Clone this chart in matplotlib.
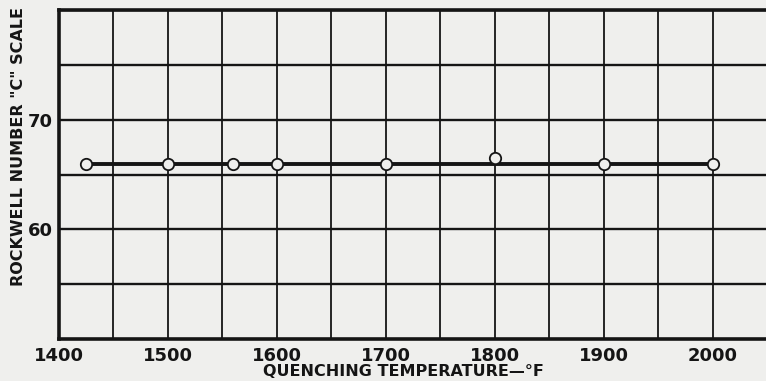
import matplotlib
matplotlib.use("Agg")
import matplotlib.pyplot as plt
from matplotlib.ticker import FixedLocator, FixedFormatter

# Data
temps = [1425, 1500, 1560, 1600, 1700, 1800, 1900, 2000]
hardness = [66.0, 66.0, 66.0, 66.0, 66.0, 66.5, 66.0, 66.0]
trend_value = 66.0

x_tick_values = [1400, 1500, 1600, 1700, 1800, 1900, 2000]
x_tick_labels = ["1400", "1500", "1600", "1700", "1800", "1900", "2000"]
x_grid_values = [1450, 1500, 1550, 1600, 1650, 1700, 1750, 1800, 1850, 1900, 1950, 2000, 2050]
y_grid_values = [55, 60, 65, 70, 75, 80]
y_tick_values = [60, 70]
y_tick_labels = ["60", "70"]

bg = "#efefed"
ink = "#151515"

fig = plt.figure(figsize=(7.66, 3.81), dpi=100, facecolor=bg)
ax = fig.add_axes([58.7 / 766, 42 / 381, 1 - 58.7 / 766, 329 / 381])
ax.set_facecolor(bg)
ax.set_xlim(1400, 2049)
ax.set_ylim(50, 80)

# grid
for gx in x_grid_values:
    ax.axvline(gx, color=ink, lw=1.3, zorder=1)
for gy in y_grid_values:
    ax.axhline(gy, color=ink, lw=1.7, zorder=1)

# spines
for side in ["left", "bottom", "top"]:
    ax.spines[side].set_linewidth(2.6)
    ax.spines[side].set_color(ink)
ax.spines["right"].set_visible(False)

# trend line and points
ax.plot([temps[0], temps[-1]], [trend_value, trend_value], color=ink, lw=2.8, zorder=3,
        solid_capstyle="butt")
ax.plot(temps, hardness, linestyle="none", marker="o", markersize=8.2,
        markerfacecolor=bg, markeredgecolor=ink, markeredgewidth=1.3, zorder=4)

ax.xaxis.set_major_locator(FixedLocator(x_tick_values))
ax.xaxis.set_major_formatter(FixedFormatter(x_tick_labels))
ax.yaxis.set_major_locator(FixedLocator(y_tick_values))
ax.yaxis.set_major_formatter(FixedFormatter(y_tick_labels))
ax.tick_params(axis="both", length=0, labelsize=13, colors=ink)
ax.tick_params(axis="x", pad=6)
ax.tick_params(axis="y", pad=4)
for lbl in ax.get_xticklabels() + ax.get_yticklabels():
    lbl.set_fontweight("bold")
    lbl.set_family("DejaVu Sans")

ax.set_xlabel("QUENCHING TEMPERATURE—°F", fontsize=11.5, fontweight="bold",
              color=ink, labelpad=1)
ax.xaxis.set_label_coords((403 - 58.7) / (766 - 58.7), -0.075)
ax.set_ylabel('ROCKWELL NUMBER "C" SCALE', fontsize=11.5, fontweight="bold",
              color=ink)
ax.yaxis.set_label_coords(-(58.7 - 26) / (766 - 58.7), (339 - 147) / 329)

fig.savefig("out.png", dpi=100, facecolor=bg)
